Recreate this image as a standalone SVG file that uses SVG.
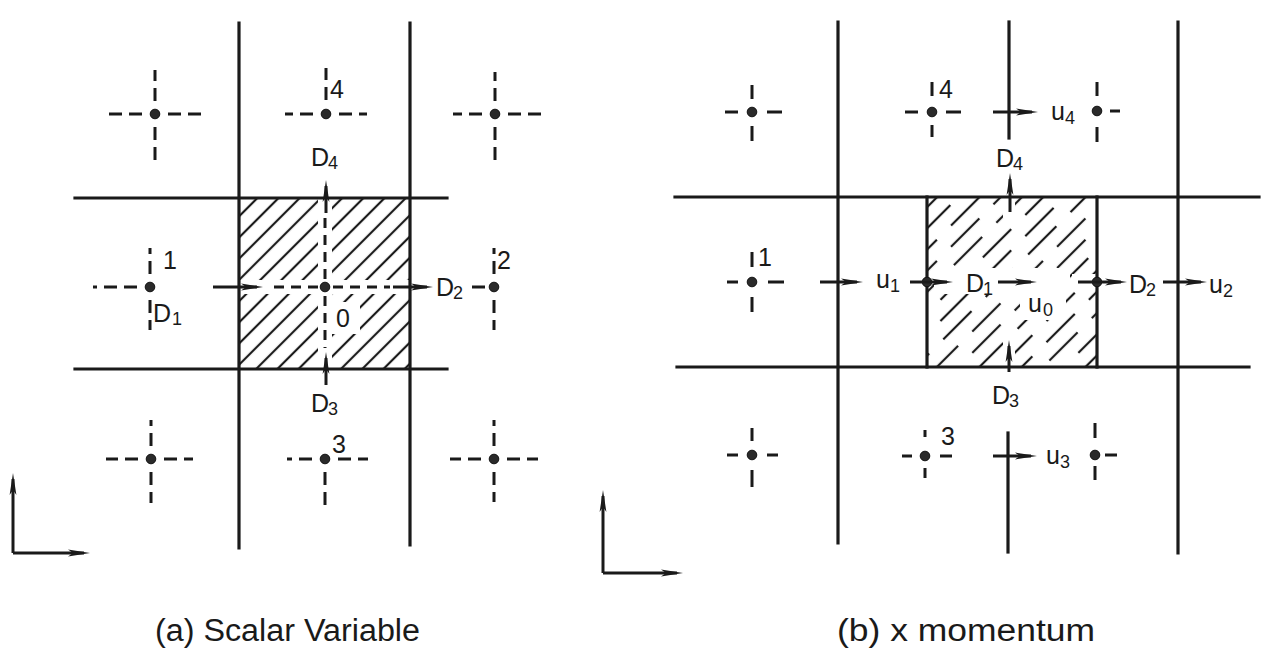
<svg xmlns="http://www.w3.org/2000/svg" width="1264" height="658" viewBox="0 0 1264 658">
<style>
.solid{stroke:#1a1a1a;stroke-width:3.2;fill:none;stroke-linecap:square}
.dsh{stroke:#1a1a1a;stroke-width:3;fill:none;stroke-dasharray:13 7}
.dsh1{stroke:#1a1a1a;stroke-width:3;fill:none}
.dot{fill:#2a2a2a;stroke:#111;stroke-width:1}
.arr{stroke:#1a1a1a;stroke-width:3;fill:none;marker-end:url(#ah)}
.lbl{font-family:"Liberation Sans",Arial,sans-serif;font-size:25px;fill:#1a1a1a}
.sub{font-family:"Liberation Sans",Arial,sans-serif;font-size:18px;fill:#1a1a1a}
.cap{font-family:"Liberation Sans",Arial,sans-serif;font-size:31px;fill:#1a1a1a}
.hl{stroke:#1a1a1a;stroke-width:2.2}
</style>
<defs>
<marker id="ah" markerUnits="userSpaceOnUse" markerWidth="26" markerHeight="12" refX="16" refY="6" orient="auto">
<path d="M0,2.6 L22,6 L0,9.4 L5,6 Z" fill="#1a1a1a"/>
</marker>
<pattern id="hatchA" width="15" height="100" patternUnits="userSpaceOnUse" patternTransform="rotate(45)">
<line class="hl" x1="7" y1="0" x2="7" y2="100"/>
</pattern>
<pattern id="hatchB" width="45" height="60" patternUnits="userSpaceOnUse" patternTransform="rotate(45) translate(0,13)">
<line class="hl" x1="7" y1="0" x2="7" y2="60" stroke-dasharray="40 20"/>
<line class="hl" x1="22" y1="0" x2="22" y2="60" stroke-dasharray="40 20" stroke-dashoffset="26"/>
<line class="hl" x1="37" y1="0" x2="37" y2="60" stroke-dasharray="40 20" stroke-dashoffset="11"/>
</pattern>
<mask id="maskA" maskUnits="userSpaceOnUse" x="0" y="0" width="1264" height="658">
<rect x="0" y="0" width="1264" height="658" fill="#fff"/>
<line x1="325" y1="198" x2="325" y2="369" stroke="#000" stroke-width="14"/>
<line x1="239" y1="287" x2="410" y2="287" stroke="#000" stroke-width="14"/>
<rect x="332" y="302" width="28" height="32" fill="#000"/>
</mask>
<mask id="maskB" maskUnits="userSpaceOnUse" x="0" y="0" width="1264" height="658">
<rect x="0" y="0" width="1264" height="658" fill="#fff"/>
<rect x="934" y="268" width="136" height="26" fill="#000"/>
<rect x="1020" y="292" width="46" height="28" fill="#000"/>
<rect x="1072" y="274" width="28" height="16" fill="#000"/>
<line x1="1009" y1="198" x2="1009" y2="218" stroke="#000" stroke-width="12"/>
<line x1="1009" y1="335" x2="1009" y2="369" stroke="#000" stroke-width="12"/>
</mask>
</defs>
<rect width="1264" height="658" fill="#fff"/>

<!-- ===== Panel (a) ===== -->
<g id="gridA">
<rect x="239" y="198" width="171" height="171" fill="url(#hatchA)" mask="url(#maskA)" stroke="none"/>
<line class="solid" x1="239" y1="23" x2="239" y2="548"/>
<line class="solid" x1="410" y1="23" x2="410" y2="545"/>
<line class="solid" x1="75" y1="198" x2="447" y2="198"/>
<line class="solid" x1="75" y1="369" x2="447" y2="369"/>
</g>

<g id="a_n_tl">
<path class="dsh" d="M142 114H106M168 114H202M155 101V70M155 127V163"/>
<circle class="dot" cx="155" cy="114" r="4.8"/>
</g>
<g id="a_n4">
<path class="dsh" d="M313 114H285M339 114H367M326 100V68"/>
<circle class="dot" cx="326" cy="114" r="4.8"/>
<text class="lbl" x="330" y="98">4</text>
</g>
<g id="a_n_tr">
<path class="dsh" d="M482 114H453M508 114H543M495 101V72M495 127V163"/>
<circle class="dot" cx="495" cy="114" r="4.8"/>
</g>
<g id="a_n1">
<path class="dsh" d="M137 287H93M150 274V248M150 300V330"/>
<circle class="dot" cx="150" cy="287" r="4.8"/>
<text class="lbl" x="163" y="269">1</text>
</g>
<g id="a_n0">
<path class="dsh1" style="stroke-dasharray:10 7" d="M318 287H268M333 287H390M325 279V215M325 296V348"/>
<circle class="dot" cx="325" cy="287" r="4.8"/>
<text class="lbl" x="336" y="327">0</text>
</g>
<g id="a_n2">
<path class="dsh" d="M485 287H471M494 274V248M494 300V330"/>
<circle class="dot" cx="494" cy="287" r="4.8"/>
<text class="lbl" x="497" y="269">2</text>
</g>
<g id="a_n_bl">
<path class="dsh" d="M138 459H106M164 459H193M151 446V420M151 472V503"/>
<circle class="dot" cx="151" cy="459" r="4.8"/>
</g>
<g id="a_n3">
<path class="dsh" d="M312 459H287M338 459H368M325 472V512"/>
<circle class="dot" cx="325" cy="459" r="4.8"/>
<text class="lbl" x="332" y="453">3</text>
</g>
<g id="a_n_br">
<path class="dsh" d="M481 459H450M507 459H538M494 446V420M494 472V502"/>
<circle class="dot" cx="494" cy="459" r="4.8"/>
</g>

<g id="a_labels">
<text class="lbl" x="311" y="166">D</text><text class="sub" x="328" y="169">4</text>
<text class="lbl" x="153" y="322">D</text><text class="sub" x="172" y="325">1</text>
<text class="lbl" x="436" y="296">D</text><text class="sub" x="453" y="299">2</text>
<text class="lbl" x="311" y="412">D</text><text class="sub" x="328" y="415">3</text>
</g>

<g id="a_axes">
<path class="arr" d="M13 553V479"/>
<path class="arr" d="M13 553H84"/>
</g>

<!-- ===== Panel (b) ===== -->
<g id="gridB">
<rect x="927" y="197" width="170" height="170" fill="url(#hatchB)" mask="url(#maskB)" stroke="none"/>
<line class="solid" x1="838" y1="22" x2="838" y2="543"/>
<line class="solid" x1="1178" y1="22" x2="1178" y2="553"/>
<line class="solid" x1="675" y1="197" x2="1259" y2="197"/>
<line class="solid" x1="677" y1="367" x2="1249" y2="367"/>
<line class="solid" x1="927" y1="197" x2="927" y2="367"/>
<line class="solid" x1="1097" y1="197" x2="1097" y2="367"/>
<line class="solid" x1="1009" y1="22" x2="1009" y2="138"/>
<line class="solid" x1="1008" y1="433" x2="1008" y2="552"/>
</g>

<g id="b_n_tl">
<path class="dsh1" d="M738 112H725M767 112H782M752 99V85M752 126V141"/>
<circle class="dot" cx="752" cy="112" r="4.8"/>
</g>
<g id="b_n4">
<path class="dsh1" d="M918 112H905M946 112H961M932 96V82M932 125V137"/>
<circle class="dot" cx="932" cy="112" r="4.8"/>
<text class="lbl" x="939" y="98">4</text>
</g>
<g id="b_n_tr">
<path class="dsh1" d="M1110 111H1120M1097 96V82M1097 127V142"/>
<circle class="dot" cx="1097" cy="111" r="4.8"/>
</g>
<g id="b_n1">
<path class="dsh1" d="M738 282H727M768 282H784M752 267V252M752 297V312"/>
<circle class="dot" cx="752" cy="282" r="4.8"/>
<text class="lbl" x="758" y="266">1</text>
</g>
<g id="b_nw">
<circle class="dot" cx="927" cy="282" r="4.8"/>
</g>
<g id="b_ne">
<circle class="dot" cx="1097" cy="282" r="4.8"/>
</g>
<g id="b_n_bl">
<path class="dsh1" d="M738 455H727M767 455H778M752 441V428M752 470V487"/>
<circle class="dot" cx="752" cy="455" r="4.8"/>
</g>
<g id="b_n3">
<path class="dsh1" d="M912 456H902M940 456H952M925 437V430M925 468V478"/>
<circle class="dot" cx="925" cy="456" r="4.8"/>
<text class="lbl" x="941" y="445">3</text>
</g>
<g id="b_n_br">
<path class="dsh1" d="M1105 455H1117M1095 438V423M1095 466V480"/>
<circle class="dot" cx="1095" cy="455" r="4.8"/>
</g>

<g id="b_labels">
<text class="lbl" x="1051" y="120">u</text><text class="sub" x="1065" y="124">4</text>
<text class="lbl" x="996" y="167">D</text><text class="sub" x="1013" y="170">4</text>
<text class="lbl" x="876" y="288">u</text><text class="sub" x="890" y="292">1</text>
<text class="lbl" x="966" y="292">D</text><text class="sub" x="983" y="295">1</text>
<text class="lbl" x="1028" y="312">u</text><text class="sub" x="1043" y="316">0</text>
<text class="lbl" x="1129" y="293">D</text><text class="sub" x="1146" y="296">2</text>
<text class="lbl" x="1209" y="293">u</text><text class="sub" x="1223" y="297">2</text>
<text class="lbl" x="992" y="404">D</text><text class="sub" x="1009" y="407">3</text>
<text class="lbl" x="1046" y="464">u</text><text class="sub" x="1060" y="468">3</text>
</g>

<g id="b_axes">
<path class="arr" d="M603 573V496"/>
<path class="arr" d="M603 573H677"/>
</g>

<!-- connectors -->
<g id="connectors">
<path class="arr" d="M213 287H257"/>
<path class="arr" d="M393 287H427"/>
<path class="arr" d="M326 213V186"/>
<path class="arr" d="M326 385V358"/>
<path class="arr" d="M820 282H857"/>
<path class="arr" d="M910 282H947"/>
<path class="arr" d="M998 282H1031"/>
<path class="arr" d="M1078 282H1121"/>
<path class="arr" d="M1163 282H1201"/>
<path class="arr" d="M993 112H1032"/>
<path class="arr" d="M993 456H1031"/>
<path class="arr" d="M1010 212V179"/>
<path class="arr" d="M1009 372V346"/>
</g>

<g id="captions">
<text class="cap" x="155" y="641" textLength="265" lengthAdjust="spacingAndGlyphs">(a) Scalar Variable</text>
<text class="cap" x="837" y="641" textLength="258" lengthAdjust="spacingAndGlyphs">(b) x momentum</text>
</g>
</svg>
